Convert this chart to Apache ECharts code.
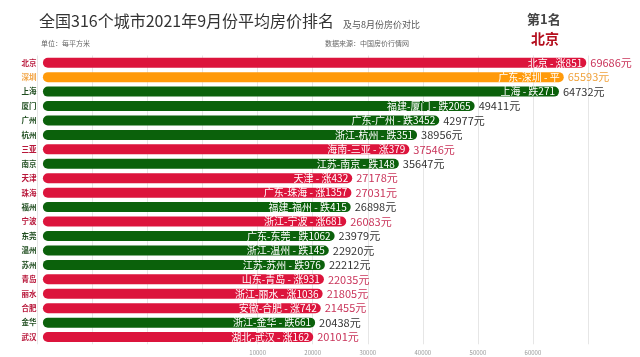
<!DOCTYPE html>
<html>
<head>
<meta charset="utf-8">
<script src="https://cdn.jsdelivr.net/npm/echarts@6/dist/echarts.min.js"></script>
<style>
html,body{margin:0;padding:0;background:#fff;}
#main{width:640px;height:357px;}
</style>
</head>
<body>
<div id="main"></div>
<script>
// ---- data ----
var cities = ['北京','深圳','上海','厦门','广州','杭州','三亚','南京','天津','珠海','福州','宁波','东莞','温州','苏州','青岛','丽水','合肥','金华','武汉'];
var regions = ['北京','广东-深圳','上海','福建-厦门','广东-广州','浙江-杭州','海南-三亚','江苏-南京','天津','广东-珠海','福建-福州','浙江-宁波','广东-东莞','浙江-温州','江苏-苏州','山东-青岛','浙江-丽水','安徽-合肥','浙江-金华','湖北-武汉'];
var prices = [69686,65593,64732,49411,42977,38956,37546,35647,27178,27031,26898,26083,23979,22920,22212,22035,21805,21455,20438,20101];
var changes = [851,0,-271,-2065,-3452,-351,379,-148,432,1357,-415,681,-1062,-145,-976,931,1036,742,-661,162];
var tickValues = [10000,20000,30000,40000,50000,60000];

var AXIS_MIN = -30000, AXIS_MAX = 70000, BAR_BASE = -29000;

var COL = { up:'#dc143c', flat:'#ff9a0a', down:'#0b610b' };
var VAL_COL = { up:'#c9345a', flat:'#f0a23c', down:'#333333' };
var AXIS_COL = { up:'#b8173a', flat:'#f2a444', down:'#1f4d1f' };
function kind(c){ return c > 0 ? 'up' : (c < 0 ? 'down' : 'flat'); }
function changeText(c){ return c > 0 ? '涨' + c : (c < 0 ? '跌' + (-c) : '平'); }

var barData = prices.map(function(v, i){
  return { value: v - BAR_BASE, itemStyle: { color: COL[kind(changes[i])] } };
});
var valData = prices.map(function(v, i){
  return { value: v - BAR_BASE, label: { color: VAL_COL[kind(changes[i])] } };
});

var chart = echarts.init(document.getElementById('main'), null, {renderer:'canvas'});
var FONT = '"Noto Sans CJK SC", "Noto Sans", sans-serif';

chart.setOption({
  backgroundColor: '#ffffff',
  animation: false,
  textStyle: { fontFamily: FONT },
  title: [
    { text: '全国316个城市2021年9月份平均房价排名', left: 34, top: 8,
      textStyle: { fontSize: 16, fontWeight: 'normal', color: '#333', fontFamily: FONT } },
    { text: '及与8月份房价对比', left: 338, top: 15,
      textStyle: { fontSize: 9, fontWeight: 'normal', color: '#555', fontFamily: FONT } },
    { text: '单位：每平方米', left: 36, top: 35,
      textStyle: { fontSize: 7, fontWeight: 'normal', color: '#666', fontFamily: FONT } },
    { text: '数据来源：中国房价行情网', right: 226, top: 35,
      textStyle: { fontSize: 7, fontWeight: 'normal', color: '#666', fontFamily: FONT } },
    { text: '第1名', left: 522, top: 8,
      textStyle: { fontSize: 13, fontWeight: 'bold', color: '#444', fontFamily: FONT } },
    { text: cities[0], left: 526, top: 27,
      textStyle: { fontSize: 14, fontWeight: 'bold', color: '#b50f1e', fontFamily: FONT } }
  ],
  grid: { left: 37.4, right: 52, top: 55.5, bottom: 12.7, containLabel: false },
  xAxis: [
    { type: 'value', min: AXIS_MIN, max: AXIS_MAX, interval: 10000,
      axisLine: { show: false }, axisTick: { show: false },
      splitLine: { show: true, lineStyle: { color: '#e6e6e6', width: 1 } },
      axisLabel: { fontSize: 6, color: '#999', margin: 5,
        formatter: function(v){ return tickValues.indexOf(v) >= 0 ? String(v) : ''; } } },
    { type: 'value', min: AXIS_MIN - BAR_BASE, max: AXIS_MAX - BAR_BASE, show: false }
  ],
  yAxis: {
    type: 'category', data: cities, inverse: true,
    axisLine: { show: false }, axisTick: { show: false },
    axisLabel: { fontSize: 7.5, fontWeight: 'bold', margin: 1, fontFamily: FONT,
      color: function(v, i){ return AXIS_COL[kind(changes[i])]; } }
  },
  series: [
    { type: 'bar', xAxisIndex: 1, data: barData, barWidth: 10,
      itemStyle: { borderRadius: 5 },
      label: { show: true, position: 'insideRight', distance: 4, color: '#fff', fontSize: 10,
        fontFamily: FONT,
        formatter: function(p){ return regions[p.dataIndex] + ' - ' + changeText(changes[p.dataIndex]); } } },
    { type: 'bar', xAxisIndex: 1, data: valData, barWidth: 10, barGap: '-100%',
      itemStyle: { color: 'rgba(0,0,0,0)' },
      label: { show: true, position: 'right', distance: 4, fontSize: 11, fontFamily: FONT,
        formatter: function(p){ return prices[p.dataIndex] + '元'; } } }
  ]
});
</script>
</body>
</html>
